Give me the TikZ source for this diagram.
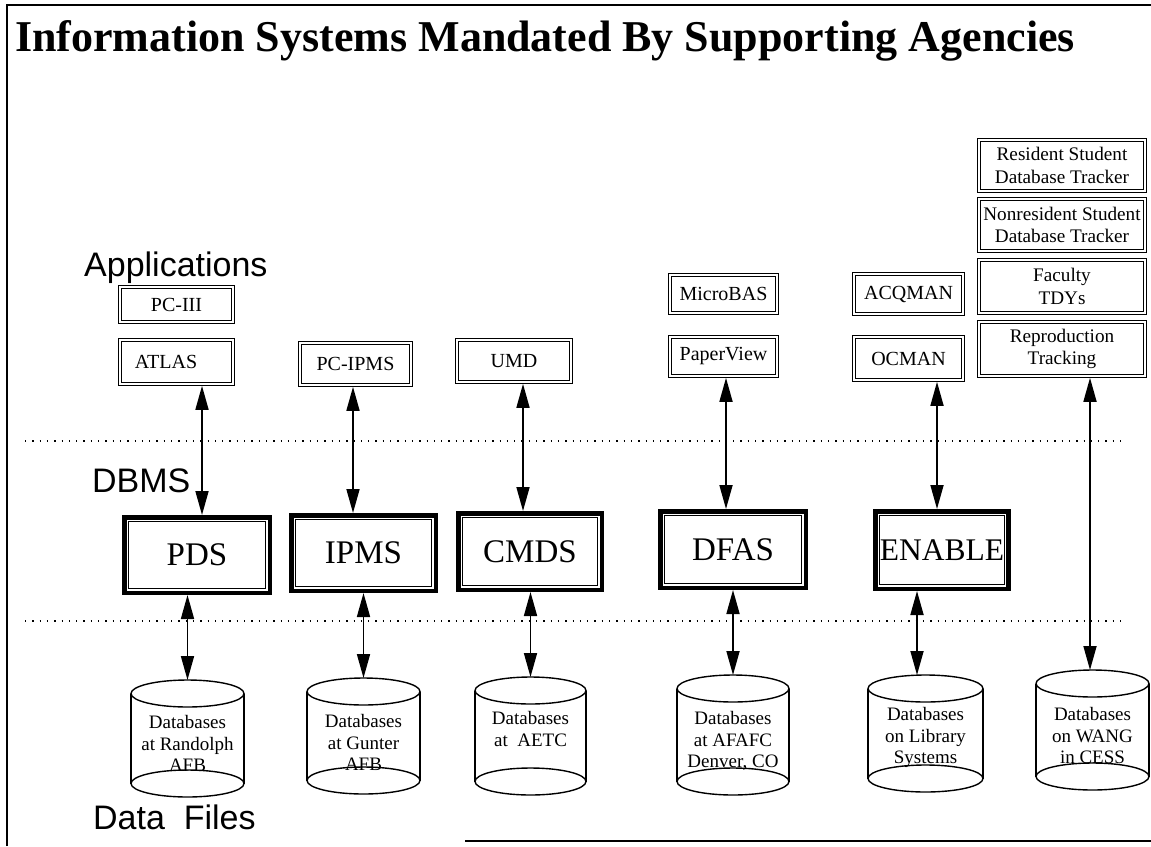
\documentclass[tikz,border=0pt]{standalone}
\usepackage{fontspec}
\setmainfont{Liberation Serif}
\newfontfamily\arialf{Liberation Sans}
\usetikzlibrary{arrows.meta}
\tikzset{
  appbox/.style={draw, line width=1pt, inner sep=0pt, outer sep=3.5pt,
    align=center, font=\fontsize{20}{22.5}\selectfont},
  widebox/.style={appbox, minimum width=162.7pt, font=\fontsize{19.2}{22.5}\selectfont},
  dbbox/.style={draw, line width=1pt, inner sep=0pt, outer sep=6.75pt,
    font=\fontsize{33}{36}\selectfont},
  cylnode/.style={inner sep=0pt, outer sep=0pt},
  cylline/.style={line width=1.4pt},
  dbtext/.style={align=center, inner sep=0pt, anchor=north, font=\fontsize{19}{21.8}\selectfont},
  layer/.style={anchor=base west, inner sep=0pt, font=\arialf\fontsize{34}{38}\selectfont},
  biarrow/.style={line width=1.7pt, {Triangle[width=13pt,length=24pt]}-{Triangle[width=13pt,length=24pt]}},
  sep/.style={line width=1.3pt, dash pattern=on 1.3pt off 6pt},
  frame/.style={line width=2.2pt}
}
\newcommand\dbcyl[5]{%
  \node[cylnode, minimum width=#5pt, minimum height={#4pt-#3pt}] (#1) at (#2,{(#3+#4)/2}) {};
  \draw[cylline] ([yshift=-13.5pt]#1.north west) -- ([yshift=13.5pt]#1.south west)
    ([yshift=-13.5pt]#1.north east) -- ([yshift=13.5pt]#1.south east);
  \draw[cylline] ([yshift=-13.5pt]#1.north) ellipse [x radius=#5pt/2, y radius=13.5pt]
    ([yshift=13.5pt]#1.south) ellipse [x radius=#5pt/2, y radius=13.5pt];
}
\begin{document}
\begin{tikzpicture}[x=1pt, y=-1pt]
\useasboundingbox (0,0) rectangle (1151,846);
\fill[white] (0,0) rectangle (1151,846);

% frame
\draw[frame] (7,846) -- (7,5) -- (1151,5);
\draw[frame] (465,841) -- (1151,841);

% title
\node[anchor=base west, inner sep=0pt, font=\bfseries\fontsize{44}{48}\selectfont] (title) at (15,51)
  {Information Systems Mandated By Supporting Agencies};

% layer labels
\node[layer] (lapp) at (84,276) {Applications};
\node[layer] (ldbms) at (92,492) {DBMS};
\node[layer] (ldata) at (93,829) {Data\ \ Files};

% separators
\draw[sep] (25,441) -- (1122,441);
\draw[sep] (25,621) -- (1125,621);

% application boxes
\node[appbox, minimum width=109.7pt, minimum height=32.7pt] (pciii) at (176.5,304.5) {PC-III};
\node[appbox, minimum width=109.7pt, minimum height=40.7pt] (atlas) at (176.5,362) {ATLAS\hspace*{21pt}};
\node[appbox, minimum width=107.7pt, minimum height=38.7pt] (pcipms) at (355.5,364) {PC-IPMS};
\node[appbox, minimum width=110.7pt, minimum height=38.7pt] (umd) at (514,361) {UMD};
\node[appbox, minimum width=103.7pt, minimum height=35.7pt] (microbas) at (723.5,294) {MicroBAS};
\node[appbox, minimum width=103.7pt, minimum height=35.7pt] (paperview) at (723.5,356.5) {PaperView};
\node[appbox, minimum width=105.7pt, minimum height=37.7pt] (acqman) at (908.5,294) {ACQMAN};
\node[appbox, minimum width=105.7pt, minimum height=39.7pt] (ocman) at (908.5,358.5) {OCMAN};
\node[widebox, minimum height=47.7pt] (resident) at (1062,165.5) {Resident Student\\Database Tracker};
\node[widebox, minimum height=48.7pt] (nonres) at (1062,225) {Nonresident Student\\Database Tracker};
\node[widebox, minimum height=49.7pt] (faculty) at (1062,286.5) {Faculty\\TDYs};
\node[widebox, minimum height=50.7pt] (repro) at (1062,349) {Reproduction\\Tracking};
\foreach \n in {pciii,atlas,pcipms,umd,microbas,paperview,acqman,ocman,resident,nonres,faculty,repro}
  \draw[line width=1.1pt] ([xshift=0.5pt,yshift=-0.5pt]\n.north west) rectangle ([xshift=-0.5pt,yshift=0.5pt]\n.south east);

% DBMS boxes
\node[dbbox, minimum width=136.5pt, minimum height=66.5pt] (pds) at (197,555) {PDS};
\node[dbbox, minimum width=135.5pt, minimum height=66.5pt] (ipms) at (363.5,553) {IPMS};
\node[dbbox, minimum width=134.5pt, minimum height=67.5pt] (cmds) at (530,551.5) {CMDS};
\node[dbbox, minimum width=136.5pt, minimum height=67.5pt] (dfas) at (733,549.5) {DFAS};
\node[dbbox, minimum width=122.5pt, minimum height=68.5pt, font=\fontsize{31.5}{36}\selectfont] (enable) at (942,550) {ENABLE};
\foreach \n in {pds,ipms,cmds,dfas,enable}
  \draw[line width=4.5pt] ([xshift=2.25pt,yshift=-2.25pt]\n.north west) rectangle ([xshift=-2.25pt,yshift=2.25pt]\n.south east);

% databases
\dbcyl{c1}{187.5}{680}{797}{113}
\dbcyl{c2}{363.5}{678}{794}{113}
\dbcyl{c3}{530.5}{677}{795}{111}
\dbcyl{c4}{733}{675}{795}{112}
\dbcyl{c5}{925.5}{675}{792}{115}
\dbcyl{c6}{1092.5}{670}{790}{113}
\node[dbtext] (t1) at (187.5,715) {Databases\\at Randolph\\AFB};
\node[dbtext] (t2) at (363.5,714) {Databases\\at Gunter\\AFB};
\node[dbtext] (t3) at (530.5,711) {Databases\\at\ \ AETC};
\node[dbtext] (t4) at (733,711) {Databases\\at AFAFC\\Denver, CO};
\node[dbtext] (t5) at (925.5,707) {Databases\\on Library\\Systems};
\node[dbtext] (t6) at (1092.5,707) {Databases\\on WANG\\in CESS};

% arrow columns
\coordinate (ua1) at (202,0);
\coordinate (ua2) at (353,0);
\coordinate (ua3) at (523,0);
\coordinate (ua4) at (726,0);
\coordinate (ua5) at (937,0);
\coordinate (la1) at (187.5,0);
\coordinate (la2) at (363.5,0);
\coordinate (la3) at (530.5,0);
\coordinate (la4) at (733,0);
\coordinate (la5) at (917,0);
\coordinate (la6) at (1090,0);

% connectors
\draw[biarrow] (atlas.south -| ua1) -- (pds.north -| ua1);
\draw[biarrow] (pcipms.south -| ua2) -- (ipms.north -| ua2);
\draw[biarrow] (umd.south -| ua3) -- (cmds.north -| ua3);
\draw[biarrow] (paperview.south -| ua4) -- (dfas.north -| ua4);
\draw[biarrow] (ocman.south -| ua5) -- (enable.north -| ua5);
\draw[biarrow] (pds.south -| la1) -- (c1.north -| la1);
\draw[biarrow] (ipms.south -| la2) -- (c2.north -| la2);
\draw[biarrow] (cmds.south -| la3) -- (c3.north -| la3);
\draw[biarrow] (dfas.south -| la4) -- (c4.north -| la4);
\draw[biarrow] (enable.south -| la5) -- (c5.north -| la5);
\draw[biarrow] (repro.south -| la6) -- (c6.north -| la6);
\end{tikzpicture}
\end{document}
